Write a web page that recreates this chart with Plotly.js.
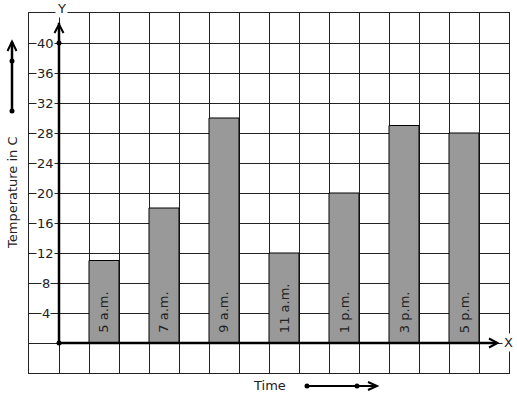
<!DOCTYPE html>
<html><head><meta charset="utf-8">
<script src="https://cdn.plot.ly/plotly-3.0.1.min.js"></script>
<style>html,body{margin:0;padding:0;background:#fff}</style>
</head><body><div id="chart" style="width:517px;height:399px"></div>
<script>
const categories = ["5 a.m.", "7 a.m.", "9 a.m.", "11 a.m.", "1 p.m.", "3 p.m.", "5 p.m."];
const temperatures = [11, 18, 30, 12, 20, 29, 28];
const yTickValues = [4, 8, 12, 16, 20, 24, 28, 32, 36, 40];
const xPositions = categories.map((c, i) => 1.5 + 2 * i);

const W = 517, H = 399, L = 29, R = 8, T = 13, B = 26;
const pw = W - L - R, ph = H - T - B;
const px = x => (x - L) / pw;
const py = y => (H - B - y) / ph;
const FONT = "DejaVu Sans, sans-serif";

const shapes = [];
const line = (x0, y0, x1, y1, w) => shapes.push({type: "line", xref: "paper", yref: "paper",
  x0: px(x0), y0: py(y0), x1: px(x1), y1: py(y1), line: {color: "#000", width: w}, layer: "above"});
const chevron = (pts, w) => shapes.push({type: "path", xref: "paper", yref: "paper",
  path: "M" + pts.map(p => px(p[0]) + "," + py(p[1])).join(" L"), line: {color: "#000", width: w}, layer: "above"});
const dot = (x, y, r) => shapes.push({type: "circle", xref: "paper", yref: "paper",
  x0: px(x - r), x1: px(x + r), y0: py(y + r), y1: py(y - r), fillcolor: "#000", line: {color: "#000", width: 0}, layer: "above"});

// axes (data coordinates)
shapes.push({type: "line", xref: "x", yref: "y", x0: 0, y0: 0, x1: 0, y1: 42.7, line: {color: "#000", width: 2.5}, layer: "above"});
shapes.push({type: "line", xref: "x", yref: "y", x0: 0, y0: 0, x1: 14.6, y1: 0, line: {color: "#000", width: 2.5}, layer: "above"});
chevron([[54.5, 33], [59, 24.5], [63.5, 33]], 2);
chevron([[489, 338.5], [497.5, 343], [489, 347.5]], 2);
dot(59, 343, 2.5);
dot(59, 43, 2.5);
// left decoration arrow
line(12, 111, 12, 42, 2.5);
chevron([[7.5, 51], [12, 41.5], [16.5, 51]], 2);
dot(12, 61, 2.5);
dot(12, 111, 2.5);
// time arrow
line(307, 386, 375, 386, 2);
chevron([[368, 382], [377, 386], [368, 390]], 2);
dot(307, 386, 2.5);
dot(357, 386, 2.5);

const txt = (x, y, text, extra) => Object.assign({x: px(x), y: py(y), xref: "paper", yref: "paper", text: text,
  showarrow: false, xanchor: "center", yanchor: "middle", font: {family: FONT, size: 13, color: "#222"}}, extra || {});

const annotations = yTickValues.map(v => ({x: -0.45, y: v, xref: "x", yref: "y", text: String(v),
  showarrow: false, xanchor: "center", yanchor: "middle", bgcolor: "#fff", borderpad: 0,
  font: {family: FONT, size: 13, color: "#222"}}));
annotations.push(txt(61, 8, "Y", {bgcolor: "#fff", borderpad: 1}));
annotations.push(txt(508, 342, "X", {bgcolor: "#fff", borderpad: 1}));
annotations.push(txt(12, 193, "Temperature in C", {textangle: -90}));
annotations.push(txt(269, 385, "Time"));
categories.forEach((c, i) => annotations.push({x: xPositions[i], y: 1.05, xref: "x", yref: "y", text: c,
  textangle: -90, showarrow: false, xanchor: "center", yanchor: "bottom",
  font: {family: FONT, size: 13, color: "#222"}}));

const trace = {type: "bar", x: xPositions, y: temperatures, width: 1,
  marker: {color: "#999999", line: {color: "#000", width: 1}}, hoverinfo: "none"};

const layout = {width: W, height: H, margin: {l: L, r: R, t: T, b: B},
  paper_bgcolor: "#fff", plot_bgcolor: "#fff", showlegend: false,
  xaxis: {range: [-1, 15], tick0: -1, dtick: 1, showticklabels: false, ticks: "", showgrid: true,
    gridcolor: "#222", gridwidth: 1, zeroline: false, showline: true, mirror: true, linecolor: "#222", linewidth: 1, fixedrange: true},
  yaxis: {range: [-4, 44], tick0: 0, dtick: 4, showticklabels: false, ticks: "", showgrid: true,
    gridcolor: "#222", gridwidth: 1, zeroline: false, showline: true, mirror: true, linecolor: "#222", linewidth: 1, fixedrange: true},
  shapes: shapes, annotations: annotations};

Plotly.newPlot("chart", [trace], layout, {staticPlot: true});
</script></body></html>
